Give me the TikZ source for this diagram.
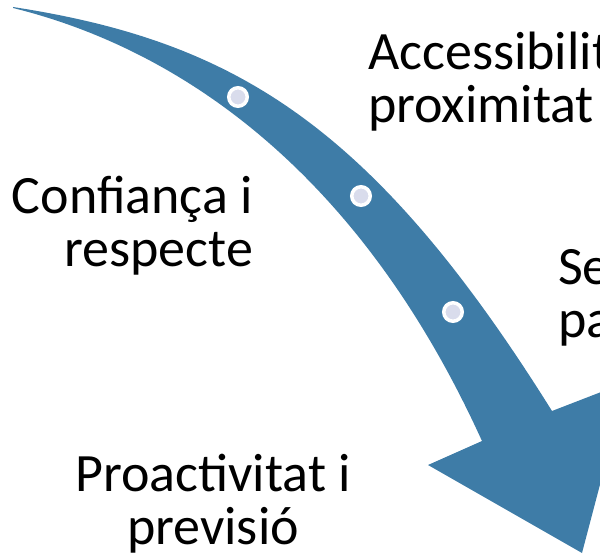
\documentclass[tikz,border=0pt]{standalone}
\usepackage{fontspec}
\setmainfont{Carlito}

\definecolor{fletxa_blau}{RGB}{62,124,167}
\definecolor{punt_lila}{RGB}{217,220,236}

\begin{document}
\begin{tikzpicture}[x=1pt,y=-1pt]
        \tikzset{
            txt/.style={
                font=\fontsize{54}{53}\selectfont,
                inner sep=0pt,
                align=#1
            },
            punt/.style={
                circle,
                draw=white,
                fill=punt_lila,
                line width=3.5pt,
                inner sep=0pt,
                minimum size=18.5pt
            }
        }
        \useasboundingbox (0,0) rectangle (600,556);

        %fletxa
        \fill[fletxa_blau] (13,7) .. controls (233,41) and (372,123) .. (552,411)
            -- (627,382) -- (582,553) -- (428,465) -- (482,441)
            .. controls (352,155) and (163,45) .. (13,8) -- cycle;

        %punts
        \node[punt] (p1) at (238,97) {};
        \node[punt] (p2) at (361,196) {};
        \node[punt] (p3) at (453,312) {};

        %textos (base = darrera linia)
        \node[txt=left, anchor=base west] (acces) at (368,123) {Accessibilit\\proximitat};
        \node[txt=right, anchor=base east] (confi) at (253,266) {Confiança i\\respecte};
        \node[txt=left, anchor=base west] (segur) at (558,337) {Se\\pa};
        \node[txt=center, anchor=base] (proac) at (213,544) {Proactivitat i\\previsió};

\end{tikzpicture}
\end{document}
